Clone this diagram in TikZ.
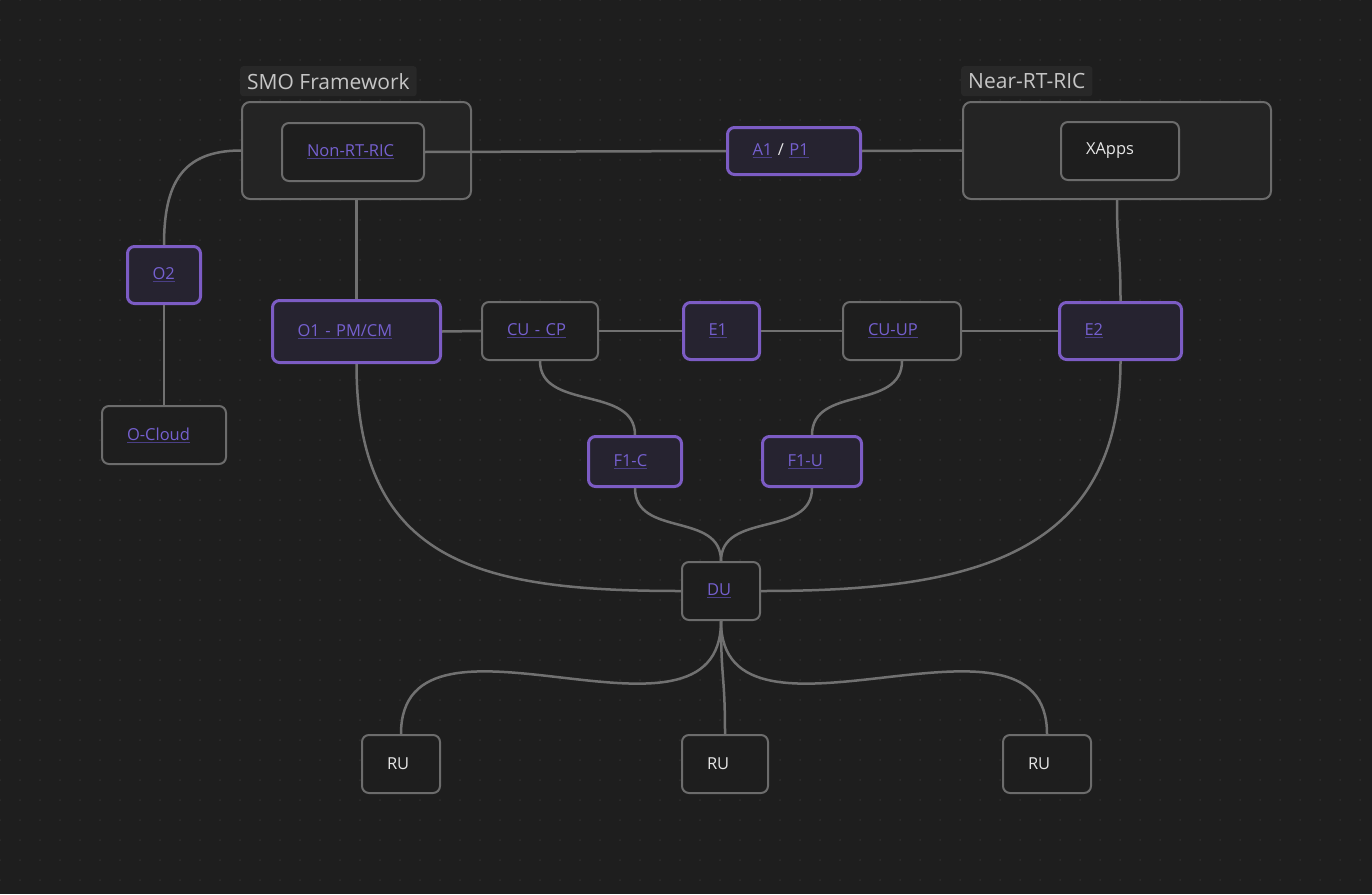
\documentclass[tikz,border=0pt]{standalone}
\usepackage{fontspec}
\setmainfont{Open Sans}
\definecolor{bgc}{HTML}{1E1E1E}
\definecolor{dotc}{HTML}{2E2E2E}
\definecolor{framec}{HTML}{242424}
\definecolor{tagc}{HTML}{282828}
\definecolor{tagtext}{HTML}{C6C6C6}
\definecolor{edgec}{HTML}{6C6C6C}
\definecolor{linec}{HTML}{717171}
\definecolor{pfill}{HTML}{262330}
\definecolor{purc}{HTML}{7C5CC4}
\definecolor{linkc}{HTML}{7560CF}
\definecolor{ulc}{HTML}{4A3F85}
\definecolor{whitec}{HTML}{E6E6E6}
\newcommand\ulink[1]{{\color{ulc}\underline{\textcolor{linkc}{#1}}}}
\tikzset{
    base/.style = {rounded corners = 7pt, align = left, anchor = north west,
        inner xsep = 25pt, inner ysep = 0pt,
        font = \fontsize{16.5}{19}\selectfont, text = linkc},
    gbox/.style = {base, draw = edgec, line width = 2pt, fill = bgc},
    pbox/.style = {base, draw = purc, line width = 3pt, fill = pfill},
    frame/.style = {draw = edgec, line width = 2pt, fill = framec,
        rounded corners = 8pt, anchor = north west, inner sep = 0pt},
    tag/.style = {fill = tagc, rounded corners = 3pt, anchor = north west,
        text = tagtext, font = \fontsize{21}{25}\selectfont,
        inner xsep = 7pt, inner ysep = 0pt, minimum height = 30pt},
    link/.style = {draw = linec, line width = 2.5pt}
}
\begin{document}
\begin{tikzpicture}[x = 1pt, y = -1pt]
    \useasboundingbox (0, 0) rectangle (1372, 894);
    % canvas
    \fill[bgc] (0, 0) rectangle (1372, 894);
    \foreach \i in {0, ..., 68}
        \foreach \j in {0, ..., 44}
            \fill[dotc] (\i*20, \j*20) circle (1);
    % groups
    \node[tag] (smotag) at (240, 66) {SMO Framework};
    \node[frame, minimum width = 229pt, minimum height = 97pt] (smo) at (241, 101) {};
    \node[tag] (neartag) at (961, 66) {Near-RT-RIC};
    \node[frame, minimum width = 308pt, minimum height = 97pt] (near) at (962, 101) {};
    % nodes
    \node[gbox, text width = 92pt, minimum height = 58pt] (nonrt) at (281, 122) {\ulink{Non-RT-RIC}};
    \node[pbox, text width = 83pt, minimum height = 47pt] (a1p1) at (726, 126)
        {\ulink{A1} {\color{whitec}/} \ulink{P1}};
    \node[gbox, text width = 68pt, minimum height = 58pt, text = whitec] (xapps) at (1060, 121) {XApps};
    \node[pbox, text width = 23pt, minimum height = 57pt] (o2) at (126, 245) {\ulink{O2}};
    \node[gbox, text width = 74pt, minimum height = 58pt] (ocloud) at (101, 405) {\ulink{O-Cloud}};
    \node[pbox, text width = 118pt, minimum height = 62pt] (o1) at (271, 299) {\ulink{O1 - PM/CM}};
    \node[gbox, text width = 66pt, minimum height = 58pt] (cucp) at (481, 301) {\ulink{CU - CP}};
    \node[pbox, text width = 26pt, minimum height = 57pt] (e1) at (682, 301) {\ulink{E1}};
    \node[gbox, text width = 68pt, minimum height = 58pt] (cuup) at (842, 301) {\ulink{CU-UP}};
    \node[pbox, text width = 72pt, minimum height = 57pt] (e2) at (1058, 301) {\ulink{E2}};
    \node[pbox, text width = 43pt, minimum height = 50pt] (f1c) at (587, 435) {\ulink{F1-C}};
    \node[pbox, text width = 49pt, minimum height = 50pt] (f1u) at (761, 435) {\ulink{F1-U}};
    \node[gbox, text width = 28pt, minimum height = 58pt] (du) at (681, 561) {\ulink{DU}};
    \node[gbox, text width = 28pt, minimum height = 58pt, text = whitec] (ru1) at (361, 734) {RU};
    \node[gbox, text width = 36pt, minimum height = 58pt, text = whitec] (ru2) at (681, 734) {RU};
    \node[gbox, text width = 38pt, minimum height = 58pt, text = whitec] (ru3) at (1002, 734) {RU};
    % links
    \draw[link] (smo.west) .. controls +(-60, 0) and +(0, -60) .. (o2.north);
    \draw[link] (o2.south) -- (ocloud.north);
    \draw[link] (nonrt.east) -- (a1p1.west);
    \draw[link] (a1p1.east) -- (near.west);
    \draw[link] (smo.south) -- (o1.north);
    \draw[link] (o1.east) -- (cucp.west);
    \draw[link] (cucp.east) -- (e1.west);
    \draw[link] (e1.east) -- (cuup.west);
    \draw[link] (cuup.east) -- (e2.west);
    \draw[link] (near.south) .. controls +(0, 50) and +(0, -50) .. (e2.north);
    \draw[link] (cucp.south) .. controls +(0, 50) and +(0, -50) .. (f1c.north);
    \draw[link] (cuup.south) .. controls +(0, 50) and +(0, -50) .. (f1u.north);
    \draw[link] (f1c.south) .. controls +(0, 50) and +(0, -50) .. (du.north);
    \draw[link] (f1u.south) .. controls +(0, 50) and +(0, -50) .. (du.north);
    \draw[link] (o1.south) .. controls +(0, 200) and +(-200, 0) .. (du.west);
    \draw[link] (e2.south) .. controls +(0, 200) and +(200, 0) .. (du.east);
    \draw[link] (du.south) .. controls +(0, 150) and +(0, -150) .. (ru1.north);
    \draw[link] (du.south) .. controls +(0, 60) and +(0, -60) .. (ru2.north);
    \draw[link] (du.south) .. controls +(0, 150) and +(0, -150) .. (ru3.north);
\end{tikzpicture}
\end{document}
